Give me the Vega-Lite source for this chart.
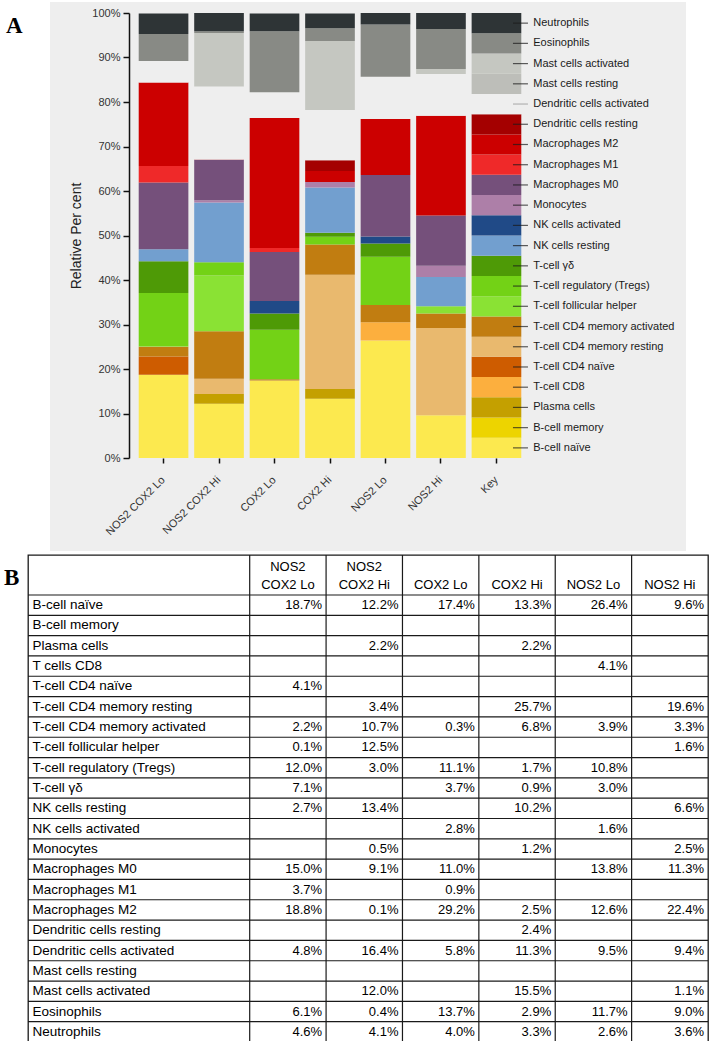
{
  "$schema": "https://vega.github.io/schema/vega-lite/v6.json",
  "background": "white",
  "padding": {"left": 3, "top": 2, "right": 0, "bottom": 0},
  "config": {"font": "Liberation Sans", "view": {"stroke": null}},
  "datasets": {
    "cells": [
      {"cell": "B-cell naïve", "rank": 1},
      {"cell": "B-cell memory", "rank": 2},
      {"cell": "Plasma cells", "rank": 3},
      {"cell": "T-cell CD8", "rank": 4},
      {"cell": "T-cell CD4 naïve", "rank": 5},
      {"cell": "T-cell CD4 memory resting", "rank": 6},
      {"cell": "T-cell CD4 memory activated", "rank": 7},
      {"cell": "T-cell follicular helper", "rank": 8},
      {"cell": "T-cell regulatory (Tregs)", "rank": 9},
      {"cell": "T-cell γδ", "rank": 10},
      {"cell": "NK cells resting", "rank": 11},
      {"cell": "NK cells activated", "rank": 12},
      {"cell": "Monocytes", "rank": 13},
      {"cell": "Macrophages M0", "rank": 14},
      {"cell": "Macrophages M1", "rank": 15},
      {"cell": "Macrophages M2", "rank": 16},
      {"cell": "Dendritic cells resting", "rank": 17},
      {"cell": "Dendritic cells activated", "rank": 18},
      {"cell": "Mast cells resting", "rank": 19},
      {"cell": "Mast cells activated", "rank": 20},
      {"cell": "Eosinophils", "rank": 21},
      {"cell": "Neutrophils", "rank": 22}
    ],
    "groups": [
      {"group": "NOS2 COX2 Lo"}, {"group": "NOS2 COX2 Hi"}, {"group": "COX2 Lo"},
      {"group": "COX2 Hi"}, {"group": "NOS2 Lo"}, {"group": "NOS2 Hi"}
    ],
    "shares": [
      {"group": "NOS2 COX2 Lo", "cell": "B-cell naïve", "share": 0.187},
      {"group": "NOS2 COX2 Lo", "cell": "T-cell CD4 naïve", "share": 0.041},
      {"group": "NOS2 COX2 Lo", "cell": "T-cell CD4 memory activated", "share": 0.022},
      {"group": "NOS2 COX2 Lo", "cell": "T-cell follicular helper", "share": 0.001},
      {"group": "NOS2 COX2 Lo", "cell": "T-cell regulatory (Tregs)", "share": 0.120},
      {"group": "NOS2 COX2 Lo", "cell": "T-cell γδ", "share": 0.071},
      {"group": "NOS2 COX2 Lo", "cell": "NK cells resting", "share": 0.027},
      {"group": "NOS2 COX2 Lo", "cell": "Macrophages M0", "share": 0.150},
      {"group": "NOS2 COX2 Lo", "cell": "Macrophages M1", "share": 0.037},
      {"group": "NOS2 COX2 Lo", "cell": "Macrophages M2", "share": 0.188},
      {"group": "NOS2 COX2 Lo", "cell": "Dendritic cells activated", "share": 0.048},
      {"group": "NOS2 COX2 Lo", "cell": "Eosinophils", "share": 0.061},
      {"group": "NOS2 COX2 Lo", "cell": "Neutrophils", "share": 0.046},

      {"group": "NOS2 COX2 Hi", "cell": "B-cell naïve", "share": 0.122},
      {"group": "NOS2 COX2 Hi", "cell": "Plasma cells", "share": 0.022},
      {"group": "NOS2 COX2 Hi", "cell": "T-cell CD4 memory resting", "share": 0.034},
      {"group": "NOS2 COX2 Hi", "cell": "T-cell CD4 memory activated", "share": 0.107},
      {"group": "NOS2 COX2 Hi", "cell": "T-cell follicular helper", "share": 0.125},
      {"group": "NOS2 COX2 Hi", "cell": "T-cell regulatory (Tregs)", "share": 0.030},
      {"group": "NOS2 COX2 Hi", "cell": "NK cells resting", "share": 0.134},
      {"group": "NOS2 COX2 Hi", "cell": "Monocytes", "share": 0.005},
      {"group": "NOS2 COX2 Hi", "cell": "Macrophages M0", "share": 0.091},
      {"group": "NOS2 COX2 Hi", "cell": "Macrophages M2", "share": 0.001},
      {"group": "NOS2 COX2 Hi", "cell": "Dendritic cells activated", "share": 0.164},
      {"group": "NOS2 COX2 Hi", "cell": "Mast cells activated", "share": 0.120},
      {"group": "NOS2 COX2 Hi", "cell": "Eosinophils", "share": 0.004},
      {"group": "NOS2 COX2 Hi", "cell": "Neutrophils", "share": 0.041},

      {"group": "COX2 Lo", "cell": "B-cell naïve", "share": 0.174},
      {"group": "COX2 Lo", "cell": "T-cell CD4 memory activated", "share": 0.003},
      {"group": "COX2 Lo", "cell": "T-cell regulatory (Tregs)", "share": 0.111},
      {"group": "COX2 Lo", "cell": "T-cell γδ", "share": 0.037},
      {"group": "COX2 Lo", "cell": "NK cells activated", "share": 0.028},
      {"group": "COX2 Lo", "cell": "Macrophages M0", "share": 0.110},
      {"group": "COX2 Lo", "cell": "Macrophages M1", "share": 0.009},
      {"group": "COX2 Lo", "cell": "Macrophages M2", "share": 0.292},
      {"group": "COX2 Lo", "cell": "Dendritic cells activated", "share": 0.058},
      {"group": "COX2 Lo", "cell": "Eosinophils", "share": 0.137},
      {"group": "COX2 Lo", "cell": "Neutrophils", "share": 0.040},

      {"group": "COX2 Hi", "cell": "B-cell naïve", "share": 0.133},
      {"group": "COX2 Hi", "cell": "Plasma cells", "share": 0.022},
      {"group": "COX2 Hi", "cell": "T-cell CD4 memory resting", "share": 0.257},
      {"group": "COX2 Hi", "cell": "T-cell CD4 memory activated", "share": 0.068},
      {"group": "COX2 Hi", "cell": "T-cell regulatory (Tregs)", "share": 0.017},
      {"group": "COX2 Hi", "cell": "T-cell γδ", "share": 0.009},
      {"group": "COX2 Hi", "cell": "NK cells resting", "share": 0.102},
      {"group": "COX2 Hi", "cell": "Monocytes", "share": 0.012},
      {"group": "COX2 Hi", "cell": "Macrophages M2", "share": 0.025},
      {"group": "COX2 Hi", "cell": "Dendritic cells resting", "share": 0.024},
      {"group": "COX2 Hi", "cell": "Dendritic cells activated", "share": 0.113},
      {"group": "COX2 Hi", "cell": "Mast cells activated", "share": 0.155},
      {"group": "COX2 Hi", "cell": "Eosinophils", "share": 0.029},
      {"group": "COX2 Hi", "cell": "Neutrophils", "share": 0.033},

      {"group": "NOS2 Lo", "cell": "B-cell naïve", "share": 0.264},
      {"group": "NOS2 Lo", "cell": "T-cell CD8", "share": 0.041},
      {"group": "NOS2 Lo", "cell": "T-cell CD4 memory activated", "share": 0.039},
      {"group": "NOS2 Lo", "cell": "T-cell regulatory (Tregs)", "share": 0.108},
      {"group": "NOS2 Lo", "cell": "T-cell γδ", "share": 0.030},
      {"group": "NOS2 Lo", "cell": "NK cells activated", "share": 0.016},
      {"group": "NOS2 Lo", "cell": "Macrophages M0", "share": 0.138},
      {"group": "NOS2 Lo", "cell": "Macrophages M2", "share": 0.126},
      {"group": "NOS2 Lo", "cell": "Dendritic cells activated", "share": 0.095},
      {"group": "NOS2 Lo", "cell": "Eosinophils", "share": 0.117},
      {"group": "NOS2 Lo", "cell": "Neutrophils", "share": 0.026},

      {"group": "NOS2 Hi", "cell": "B-cell naïve", "share": 0.096},
      {"group": "NOS2 Hi", "cell": "T-cell CD4 memory resting", "share": 0.196},
      {"group": "NOS2 Hi", "cell": "T-cell CD4 memory activated", "share": 0.033},
      {"group": "NOS2 Hi", "cell": "T-cell follicular helper", "share": 0.016},
      {"group": "NOS2 Hi", "cell": "NK cells resting", "share": 0.066},
      {"group": "NOS2 Hi", "cell": "Monocytes", "share": 0.025},
      {"group": "NOS2 Hi", "cell": "Macrophages M0", "share": 0.113},
      {"group": "NOS2 Hi", "cell": "Macrophages M2", "share": 0.224},
      {"group": "NOS2 Hi", "cell": "Dendritic cells activated", "share": 0.094},
      {"group": "NOS2 Hi", "cell": "Mast cells activated", "share": 0.011},
      {"group": "NOS2 Hi", "cell": "Eosinophils", "share": 0.090},
      {"group": "NOS2 Hi", "cell": "Neutrophils", "share": 0.036},

      {"group": "Key", "cell": "B-cell naïve", "share": 0.04545},
      {"group": "Key", "cell": "B-cell memory", "share": 0.04545},
      {"group": "Key", "cell": "Plasma cells", "share": 0.04545},
      {"group": "Key", "cell": "T-cell CD8", "share": 0.04545},
      {"group": "Key", "cell": "T-cell CD4 naïve", "share": 0.04545},
      {"group": "Key", "cell": "T-cell CD4 memory resting", "share": 0.04545},
      {"group": "Key", "cell": "T-cell CD4 memory activated", "share": 0.04545},
      {"group": "Key", "cell": "T-cell follicular helper", "share": 0.04545},
      {"group": "Key", "cell": "T-cell regulatory (Tregs)", "share": 0.04545},
      {"group": "Key", "cell": "T-cell γδ", "share": 0.04545},
      {"group": "Key", "cell": "NK cells resting", "share": 0.04545},
      {"group": "Key", "cell": "NK cells activated", "share": 0.04545},
      {"group": "Key", "cell": "Monocytes", "share": 0.04545},
      {"group": "Key", "cell": "Macrophages M0", "share": 0.04545},
      {"group": "Key", "cell": "Macrophages M1", "share": 0.04545},
      {"group": "Key", "cell": "Macrophages M2", "share": 0.04545},
      {"group": "Key", "cell": "Dendritic cells resting", "share": 0.04545},
      {"group": "Key", "cell": "Dendritic cells activated", "share": 0.04545},
      {"group": "Key", "cell": "Mast cells resting", "share": 0.04545},
      {"group": "Key", "cell": "Mast cells activated", "share": 0.04545},
      {"group": "Key", "cell": "Eosinophils", "share": 0.04545},
      {"group": "Key", "cell": "Neutrophils", "share": 0.04545}
    ]
  },
  "vconcat": [
    {
      "hconcat": [
        {
          "width": 22,
          "height": 549,
          "view": {"stroke": null},
          "title": {"text": "A", "orient": "top", "anchor": "start", "frame": "group", "offset": 0, "dx": -22, "dy": 36, "baseline": "top", "font": "Liberation Serif", "fontSize": 23, "fontWeight": "bold", "color": "black"},
          "data": {"values": []},
          "mark": {"type": "text"},
          "encoding": {}
        },
        {
          "width": 636,
          "height": 549,
          "view": {"fill": "#eeeeee", "stroke": null},
          "data": {"name": "shares"},
          "transform": [
            {"lookup": "cell", "from": {"data": {"name": "cells"}, "key": "cell", "fields": ["rank"]}}
          ],
          "encoding": {
            "x": {
              "field": "group", "type": "nominal", "sort": null,
              "scale": {"domain": ["NOS2 COX2 Lo", "NOS2 COX2 Hi", "COX2 Lo", "COX2 Hi", "NOS2 Lo", "NOS2 Hi", "Key"], "range": [79, 481], "paddingInner": 0.105, "paddingOuter": 0.175},
              "axis": {"title": null, "orient": "bottom", "offset": -93, "domain": false, "ticks": true, "tickColor": "#111111", "tickSize": 5, "tickWidth": 1.5, "labelAngle": -45, "labelAlign": "right", "labelBaseline": "middle", "labelPadding": 15, "labelFontSize": 11, "labelColor": "#333333"}
            }
          },
          "layer": [
            {
              "mark": {"type": "bar"},
              "encoding": {
                "y": {
                  "field": "share", "type": "quantitative", "stack": "zero",
                  "scale": {"domain": [0, 1], "range": [456, 11], "nice": false},
                  "axis": {"title": "Relative Per cent", "format": ".0%", "values": [0, 0.1, 0.2, 0.3, 0.4, 0.5, 0.6, 0.7, 0.8, 0.9, 1], "offset": -79, "grid": false, "domainColor": "#111111", "domainWidth": 1.5, "tickColor": "#111111", "tickWidth": 1.5, "tickSize": 6, "labelFontSize": 11, "labelColor": "#333333", "labelPadding": 3, "titleFontSize": 14, "titleFontWeight": "normal", "titleColor": "#222222", "titlePadding": 8}
                },
                "color": {
                  "field": "cell", "type": "nominal", "legend": null,
                  "scale": {
                    "domain": ["B-cell naïve", "B-cell memory", "Plasma cells", "T-cell CD8", "T-cell CD4 naïve", "T-cell CD4 memory resting", "T-cell CD4 memory activated", "T-cell follicular helper", "T-cell regulatory (Tregs)", "T-cell γδ", "NK cells resting", "NK cells activated", "Monocytes", "Macrophages M0", "Macrophages M1", "Macrophages M2", "Dendritic cells resting", "Dendritic cells activated", "Mast cells resting", "Mast cells activated", "Eosinophils", "Neutrophils"],
                    "range": ["#fce94f", "#edd400", "#c4a000", "#fcaf3e", "#ce5c00", "#e9b96e", "#c17d11", "#8ae234", "#73d216", "#4e9a06", "#729fcf", "#204a87", "#ad7fa8", "#75507b", "#ef2929", "#cc0000", "#a40000", "#eeeeee", "#bdbeb9", "#c5c7c1", "#888a85", "#2e3436"]
                  }
                },
                "order": {"field": "rank", "type": "quantitative", "sort": "ascending"}
              }
            },
            {
              "transform": [
                {"filter": "datum.group == 'Key'"},
                {"stack": "share", "groupby": ["group"], "sort": [{"field": "rank", "order": "ascending"}], "as": ["s0", "s1"]}
              ],
              "mark": {"type": "tick", "orient": "horizontal", "size": 15, "thickness": 1.2, "xOffset": 24, "yOffset": 10.1},
              "encoding": {
                "y": {"field": "s1", "type": "quantitative", "title": "Relative Per cent"},
                "fill": {"condition": {"test": "datum.cell == 'Dendritic cells activated'", "value": "#9a9a9a"}, "value": "#1a1a1a"}
              }
            },
            {
              "transform": [
                {"filter": "datum.group == 'Key'"},
                {"stack": "share", "groupby": ["group"], "sort": [{"field": "rank", "order": "ascending"}], "as": ["s0", "s1"]}
              ],
              "mark": {"type": "text", "align": "left", "baseline": "middle", "xOffset": 36.8, "yOffset": 10.1, "fontSize": 11, "color": "#1a1a1a"},
              "encoding": {
                "y": {"field": "s1", "type": "quantitative", "title": "Relative Per cent"},
                "text": {"field": "cell", "type": "nominal"}
              }
            }
          ]
        }
      ],
      "spacing": 0
    },
    {
      "hconcat": [
        {
          "width": 680,
          "height": 487,
          "view": {"fill": "white", "stroke": "#1a1a1a", "strokeWidth": 1.3},
          "title": {"text": "B", "orient": "top", "anchor": "start", "frame": "group", "offset": 0, "dx": -24, "dy": 36, "baseline": "top", "font": "Liberation Serif", "fontSize": 23, "fontWeight": "bold", "color": "black"},
          "layer": [
            {
              "data": {"name": "groups"},
              "mark": {"type": "rule", "color": "#1a1a1a", "strokeWidth": 1.2},
              "encoding": {
                "x": {
                  "field": "group", "type": "nominal", "bandPosition": 0, "sort": null,
                  "scale": {"domain": ["NOS2 COX2 Lo", "NOS2 COX2 Hi", "COX2 Lo", "COX2 Hi", "NOS2 Lo", "NOS2 Hi"], "range": [221.7, 680], "paddingInner": 0, "paddingOuter": 0},
                  "axis": {"title": null, "orient": "top", "offset": -40, "domain": false, "ticks": false, "tickSize": 0, "grid": false, "labelAngle": 0, "labelAlign": "center", "labelBaseline": "bottom", "labelPadding": 22, "labelFontSize": 13, "labelColor": "black", "labelLineHeight": 18, "labelExpr": "datum.value == 'NOS2 COX2 Lo' ? ['NOS2', 'COX2 Lo'] : datum.value == 'NOS2 COX2 Hi' ? ['NOS2', 'COX2 Hi'] : ['', datum.value]"}
                }
              }
            },
            {
              "data": {"name": "cells"},
              "mark": {"type": "rule", "color": "#1a1a1a", "strokeWidth": 1.2},
              "encoding": {
                "y": {
                  "field": "cell", "type": "nominal", "bandPosition": 0, "sort": null,
                  "scale": {"domain": ["B-cell naïve", "B-cell memory", "Plasma cells", "T-cell CD8", "T-cell CD4 naïve", "T-cell CD4 memory resting", "T-cell CD4 memory activated", "T-cell follicular helper", "T-cell regulatory (Tregs)", "T-cell γδ", "NK cells resting", "NK cells activated", "Monocytes", "Macrophages M0", "Macrophages M1", "Macrophages M2", "Dendritic cells resting", "Dendritic cells activated", "Mast cells resting", "Mast cells activated", "Eosinophils", "Neutrophils"], "range": [40, 487], "paddingInner": 0, "paddingOuter": 0},
                  "axis": {"title": null, "orient": "left", "domain": false, "ticks": false, "tickSize": 0, "grid": false, "labelAlign": "left", "labelBaseline": "middle", "labelPadding": -4, "labelFontSize": 13.5, "labelColor": "black", "labelOverlap": false, "labelExpr": "datum.value == 'T-cell CD8' ? 'T cells CD8' : datum.value"}
                }
              }
            },
            {
              "data": {"name": "shares"},
              "transform": [{"filter": "datum.group != 'Key'"}],
              "mark": {"type": "text", "align": "right", "baseline": "middle", "dx": -4, "fontSize": 13, "color": "black"},
              "encoding": {
                "x": {"field": "group", "type": "nominal", "bandPosition": 1},
                "y": {"field": "cell", "type": "nominal"},
                "text": {"field": "share", "type": "quantitative", "format": ".1%"}
              }
            }
          ]
        }
      ]
    }
  ],
  "spacing": 2
}
